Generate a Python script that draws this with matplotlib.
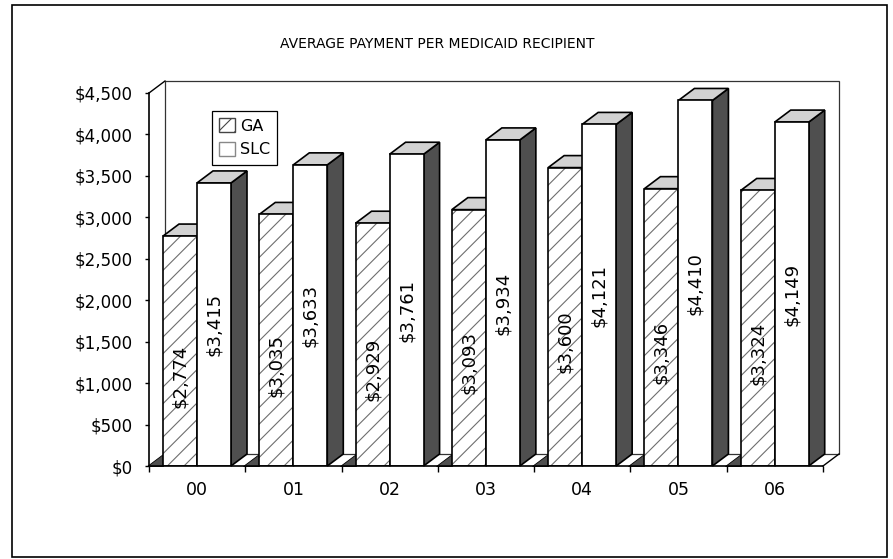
import numpy as np
import matplotlib.pyplot as plt
from matplotlib.patches import Polygon, Rectangle, Patch

plt.rcParams['font.family'] = ['DejaVu Sans']
plt.rcParams['hatch.linewidth'] = 0.8

# data
years = ['00', '01', '02', '03', '04', '05', '06']
ga = [2774, 3035, 2929, 3093, 3600, 3346, 3324]
slc = [3415, 3633, 3761, 3934, 4121, 4410, 4149]
yticks = list(range(0, 4501, 500))

W, H = 893, 559
fig = plt.figure(figsize=(W / 100, H / 100), dpi=100)

# axes placed in pixels: x 149..823, y 93..466
x0, x1, ytop, ybot = 149, 823, 93, 466
ax = fig.add_axes([x0 / W, (H - ybot) / H, (x1 - x0) / W, (ybot - ytop) / H])
n = len(years)
ax.set_xlim(0, n)
ax.set_ylim(0, 4500)

pxc = (x1 - x0) / n           # px per category
pxu = (ybot - ytop) / 4500    # px per dollar
DX = 16 / pxc                 # depth offset in data units
DY = 12 / pxu

side_col = '#4f4f4f'
top_col = '#d2d2d2'
hatch_col = '#6e6e6e'

# back wall + floor outline
wall = Polygon([(DX, DY), (n + DX, DY), (n + DX, 4500 + DY), (DX, 4500 + DY)],
               closed=True, facecolor='white', edgecolor='#333333', lw=0.9,
               clip_on=False, zorder=0)
ax.add_patch(wall)
ax.plot([0, DX], [4500, 4500 + DY], color='black', lw=1, clip_on=False, zorder=1)
ax.plot([n, n + DX], [0, DY], color='black', lw=1, clip_on=False, zorder=1)

bw = 34 / pxc
ga_off = 14 / pxc
slc_off = ga_off + bw


def bar3d(x, v, hatched, z):
    # side face
    ax.add_patch(Polygon([(x + bw, 0), (x + bw + DX, DY), (x + bw + DX, v + DY), (x + bw, v)],
                         closed=True, facecolor=side_col, edgecolor='black', lw=1.2,
                         clip_on=False, zorder=z))
    # top face
    top = [(x, v), (x + bw, v), (x + bw + DX, v + DY), (x + DX, v + DY)]
    ax.add_patch(Polygon(top, closed=True, facecolor=top_col, edgecolor='black', lw=1.2,
                         clip_on=False, zorder=z))
    # front face
    if hatched:
        ax.bar(x, v, width=bw, align='edge', color='white', edgecolor=hatch_col,
               hatch='//', lw=0, zorder=z + 0.1)
        ax.bar(x, v, width=bw, align='edge', fill=False, edgecolor='black',
               lw=1.2, zorder=z + 0.2)
    else:
        ax.bar(x, v, width=bw, align='edge', color='white', edgecolor='black',
               lw=1.2, zorder=z + 0.2)


for i in range(n):
    z = 2 + i
    gx = i + ga_off
    sx = i + slc_off
    # floor shadow next to the GA bar
    ax.add_patch(Polygon([(gx - DX, 0), (gx, 0), (gx, DY)], closed=True,
                         facecolor=side_col, edgecolor='black', lw=0.6,
                         clip_on=False, zorder=z - 0.5))
    bar3d(gx, ga[i], True, z)
    bar3d(sx, slc[i], False, z + 0.4)
    ax.text(gx + bw / 2, ga[i] / 2 - 300, f'${ga[i]:,}', rotation=90,
            ha='center', va='center', fontsize=13, zorder=30)
    ax.text(sx + bw / 2, slc[i] / 2, f'${slc[i]:,}', rotation=90,
            ha='center', va='center', fontsize=13, zorder=30)

# axes styling
for s in ['top', 'right']:
    ax.spines[s].set_visible(False)
ax.spines['left'].set_linewidth(1.2)
ax.spines['bottom'].set_linewidth(1.2)
ax.spines['left'].set_zorder(40)
ax.spines['bottom'].set_zorder(40)
ax.patch.set_visible(False)

ax.set_yticks(yticks)
ax.set_yticklabels([f'${t:,}' for t in yticks])
ax.tick_params(axis='y', direction='out', length=3, width=1, pad=9, labelsize=12)

ax.set_xticks(range(n + 1))
ax.set_xticklabels([''] * (n + 1))
ax.set_xticks([i + 0.5 for i in range(n)], minor=True)
ax.set_xticklabels(years, minor=True)
ax.tick_params(axis='x', which='major', direction='out', length=4, width=1)
ax.tick_params(axis='x', which='minor', length=0, pad=11, labelsize=12.5)

# legend
handles = [Patch(facecolor='white', edgecolor='#444444', hatch='//', label='GA'),
           Patch(facecolor='white', edgecolor='#888888', label='SLC')]
leg = fig.legend(handles=handles, loc='upper left',
                 bbox_to_anchor=(204 / W, 1 - 103 / H), fontsize=11.5,
                 handlelength=1.0, handleheight=1.0, handletextpad=0.3,
                 labelspacing=0.5, borderpad=0.45, fancybox=False, framealpha=1)
leg.get_frame().set_edgecolor('black')
leg.get_frame().set_linewidth(0.9)
leg.set_zorder(50)

# title and outer frame
fig.text(437 / W, 1 - 44 / H, 'AVERAGE PAYMENT PER MEDICAID RECIPIENT',
         ha='center', va='center', fontsize=10)
fig.patches.append(Rectangle((12 / W, 2 / H), 875 / W, 552 / H, transform=fig.transFigure,
                             fill=False, edgecolor='black', lw=1.2))

fig.savefig('out.png', dpi=100)
